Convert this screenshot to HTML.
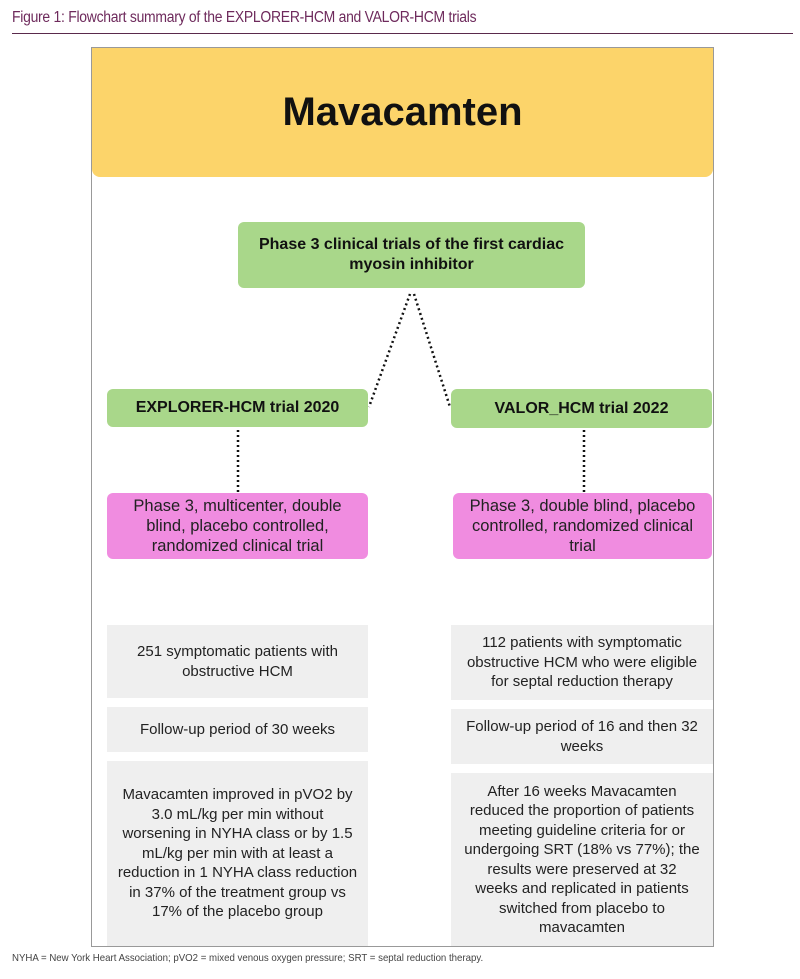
<!DOCTYPE html>
<html><head><meta charset="utf-8"><style>
*{margin:0;padding:0;box-sizing:border-box}
body{width:800px;height:979px;background:#fff;position:relative;font-family:"Liberation Sans",sans-serif;overflow:hidden}
.a{position:absolute}
.box{position:absolute;display:flex;align-items:center;justify-content:center;text-align:center;color:#222}
.g{background:#a9d78a;border-radius:6px;font-weight:bold;font-size:16px;line-height:20px;color:#111}
.p{background:#f08ce0;border-radius:6px;font-size:16.5px;line-height:20px;color:#222}
.w{background:#efefef;font-size:15px;line-height:19.5px;color:#222}
</style></head><body>
<div class="a" style="left:12px;top:9px;font-size:15.5px;color:#6e2a5c;letter-spacing:-0.3px;transform:scaleX(0.9);transform-origin:left;white-space:nowrap">Figure 1: Flowchart summary of the EXPLORER-HCM and VALOR-HCM trials</div>
<div class="a" style="left:12px;top:33px;width:781px;height:1px;background:#5a2a4c"></div>
<div class="a" style="left:91px;top:47px;width:623px;height:900px;border:1px solid #999"></div>
<div class="box" style="left:92px;top:48px;width:621px;height:129px;background:#fcd46a;border-radius:0 0 8px 8px;font-size:40px;font-weight:bold;color:#111">Mavacamten</div>
<div class="box g" style="left:238px;top:222px;width:347px;height:66px">Phase 3 clinical trials of the first cardiac<br>myosin inhibitor</div>
<svg class="a" style="left:0;top:0" width="800" height="979">
<g stroke="#111" stroke-width="2.5" stroke-dasharray="2,3" fill="none">
<line x1="410" y1="294" x2="369" y2="407"/>
<line x1="414" y1="294" x2="450" y2="407"/>
<line x1="238" y1="430" x2="238" y2="492"/>
<line x1="584" y1="430" x2="584" y2="492"/>
</g></svg>
<div class="box g" style="left:107px;top:389px;width:261px;height:38px">EXPLORER-HCM trial 2020</div>
<div class="box g" style="left:451px;top:389px;width:261px;height:39px">VALOR_HCM trial 2022</div>
<div class="box p" style="left:107px;top:493px;width:261px;height:66px">Phase 3, multicenter, double<br>blind, placebo controlled,<br>randomized clinical trial</div>
<div class="box p" style="left:453px;top:493px;width:259px;height:66px">Phase 3, double blind, placebo<br>controlled, randomized clinical<br>trial</div>
<div class="box w" style="left:107px;top:625px;width:261px;height:73px">251 symptomatic patients with<br>obstructive HCM</div>
<div class="box w" style="left:451px;top:625px;width:262px;height:75px">112 patients with symptomatic<br>obstructive HCM who were eligible<br>for septal reduction therapy</div>
<div class="box w" style="left:107px;top:707px;width:261px;height:45px">Follow-up period of 30 weeks</div>
<div class="box w" style="left:451px;top:709px;width:262px;height:55px">Follow-up period of 16 and then 32<br>weeks</div>
<div class="box w" style="left:107px;top:761px;width:261px;height:185px">Mavacamten improved in pVO2 by<br>3.0 mL/kg per min without<br>worsening in NYHA class or by 1.5<br>mL/kg per min with at least a<br>reduction in 1 NYHA class reduction<br>in 37% of the treatment group vs<br>17% of the placebo group</div>
<div class="box w" style="left:451px;top:773px;width:262px;height:173px">After 16 weeks Mavacamten<br>reduced the proportion of patients<br>meeting guideline criteria for or<br>undergoing SRT (18% vs 77%); the<br>results were preserved at 32<br>weeks and replicated in patients<br>switched from placebo to<br>mavacamten</div>
<div class="a" style="left:12px;top:952px;font-size:10.5px;color:#444;transform:scaleX(0.92);transform-origin:left;white-space:nowrap">NYHA = New York Heart Association; pVO2 = mixed venous oxygen pressure; SRT = septal reduction therapy.</div>
</body></html>
